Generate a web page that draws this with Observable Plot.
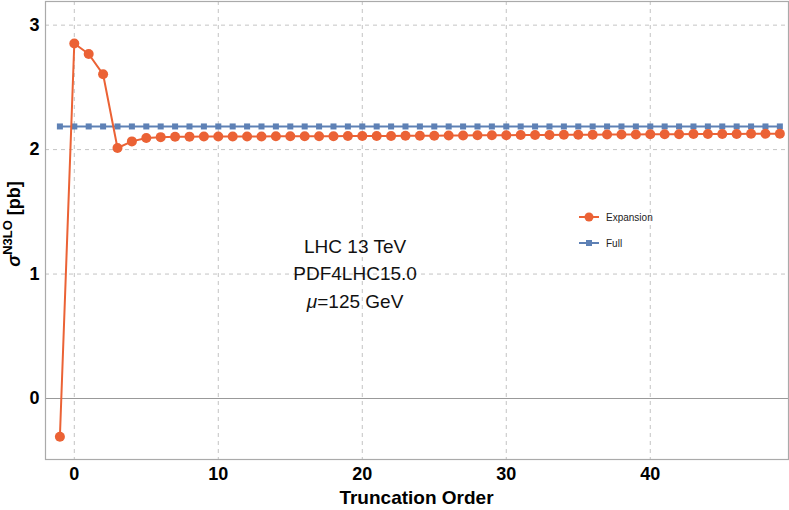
<!DOCTYPE html>
<html>
<head>
<meta charset="utf-8">
<script src="https://cdn.jsdelivr.net/npm/d3@7"></script>
<script src="https://cdn.jsdelivr.net/npm/@observablehq/plot@0.6"></script>
<style>
  body { margin: 0; background: #fff; }
  #wrap { position: relative; width: 789px; height: 510px; font-family: "Liberation Sans", Arial, sans-serif; }
  #legend { position: absolute; left: 578px; top: 204px; font-size: 10px; color: #222; }
  #legend .row { display: flex; align-items: center; height: 26px; }
  #legend svg { margin-right: 6px; }
</style>
</head>
<body>
<div id="wrap">
  <div id="legend"></div>
</div>
<script>
const orders = d3.range(-1, 50);
const expansion = [
  -0.307, 2.853, 2.768, 2.605, 2.013, 2.066, 2.093, 2.100, 2.103, 2.104,
  2.105, 2.105, 2.106, 2.106, 2.106, 2.107, 2.107, 2.107, 2.108, 2.108,
  2.109, 2.109, 2.110, 2.110, 2.111, 2.112, 2.112, 2.113, 2.114, 2.115,
  2.115, 2.116, 2.117, 2.117, 2.118, 2.119, 2.119, 2.120, 2.121, 2.121,
  2.122, 2.123, 2.123, 2.124, 2.125, 2.125, 2.126, 2.126, 2.127, 2.127,
  2.128
];
const full = orders.map(() => 2.186);
const xTicks = [0, 10, 20, 30, 40];
const yTicks = [0, 1, 2, 3];
const seriesNames = ["Expansion", "Full"];
const seriesColors = ["#EB6235", "#5E81B5"];
const annotation = ["LHC 13 TeV", "PDF4LHC15.0", "μ=125 GeV"];

const expData = orders.map((o, i) => ({x: o, y: expansion[i]}));
const fullData = orders.map((o, i) => ({x: o, y: full[i]}));

const plot = Plot.plot({
  width: 789,
  height: 510,
  marginLeft: 45,
  marginRight: 1,
  marginTop: 1,
  marginBottom: 51,
  style: {fontFamily: "Liberation Sans, Arial, sans-serif", background: "#fff"},
  x: {domain: [-2, 49.6], ticks: xTicks, label: null},
  y: {domain: [-0.49, 3.19], ticks: yTicks, label: null},
  marks: [
    Plot.gridX(xTicks, {stroke: "#c4c4c4", strokeOpacity: 1, strokeDasharray: "4,4", strokeWidth: 1}),
    Plot.gridY(yTicks.filter(d => d !== 0), {stroke: "#c4c4c4", strokeOpacity: 1, strokeDasharray: "4,4", strokeWidth: 1}),
    Plot.ruleY([0], {stroke: "#999", strokeWidth: 1.2}),
    Plot.frame({stroke: "#aaa", strokeWidth: 1.2}),
    Plot.axisX(xTicks, {tickSize: 0, tickPadding: 8, fontSize: 18, fontWeight: "bold", fill: "#000", label: null, tickFormat: "d"}),
    Plot.axisY(yTicks, {tickSize: 0, tickPadding: 6, fontSize: 18, fontWeight: "bold", fill: "#000", label: null, tickFormat: "d"}),
    Plot.line(fullData, {x: "x", y: "y", stroke: seriesColors[1], strokeWidth: 2}),
    Plot.dot(fullData, {x: "x", y: "y", symbol: "square", r: 3.4, fill: seriesColors[1], stroke: "none"}),
    Plot.line(expData, {x: "x", y: "y", stroke: seriesColors[0], strokeWidth: 2}),
    Plot.dot(expData, {x: "x", y: "y", r: 5, fill: seriesColors[0], stroke: "none"}),
    Plot.text([annotation.join("\n")], {x: 19.5, y: 1.02, text: d => d, fontSize: 19, lineHeight: 1.45, fill: "#111", textAnchor: "middle"})
  ]
});

document.getElementById("wrap").appendChild(plot);
const svg = d3.select(plot);

// italic mu
svg.selectAll("text").each(function() {
  d3.select(this).selectAll("tspan").each(function() {
    const t = d3.select(this);
    const s = t.text();
    if (s.startsWith("μ")) {
      t.text(null);
      t.append("tspan").attr("font-style", "italic").text("μ");
      t.append("tspan").text(s.slice(1));
    }
  });
});

// x axis label
svg.append("text")
  .attr("x", 45 + (788 - 45) / 2)
  .attr("y", 504)
  .attr("text-anchor", "middle")
  .attr("font-size", 19)
  .attr("font-weight", "bold")
  .attr("fill", "#000")
  .text("Truncation Order");

// y axis label
const yl = svg.append("text")
  .attr("transform", "translate(20,224) rotate(-90)")
  .attr("text-anchor", "middle")
  .attr("font-size", 18)
  .attr("font-weight", "bold")
  .attr("fill", "#000");
yl.append("tspan").attr("font-style", "italic").text("σ");
yl.append("tspan").attr("font-size", 13).attr("dy", -8).text("N3LO");
yl.append("tspan").attr("dy", 8).text(" [pb]");

// legend
const legend = d3.select("#legend");
seriesNames.forEach((name, i) => {
  const row = legend.append("div").attr("class", "row");
  const s = row.append("svg").attr("width", 22).attr("height", 12);
  s.append("line").attr("x1", 1).attr("x2", 21).attr("y1", 6).attr("y2", 6)
    .attr("stroke", seriesColors[i]).attr("stroke-width", 2);
  if (i === 0) s.append("circle").attr("cx", 11).attr("cy", 6).attr("r", 4.5).attr("fill", seriesColors[i]);
  else s.append("rect").attr("x", 8).attr("y", 3).attr("width", 6).attr("height", 6).attr("fill", seriesColors[i]);
  row.append("span").text(name);
});
</script>
</body>
</html>
